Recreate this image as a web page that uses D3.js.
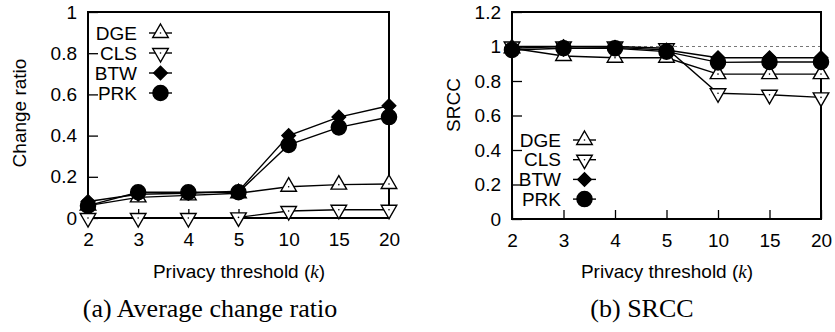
<!DOCTYPE html>
<html>
<head>
<meta charset="utf-8">
<script src="https://cdn.jsdelivr.net/npm/d3@7"></script>
<style>
  body { margin: 0; background: #fff; }
  text { font-family: "Liberation Sans", Arial, sans-serif; }
</style>
</head>
<body>
<div id="chart"></div>
<script>
// data
const kLabels = ["2", "3", "4", "5", "10", "15", "20"];
const seriesNames = ["DGE", "CLS", "BTW", "PRK"];

const changeDGE = [0.06, 0.10, 0.11, 0.12, 0.152, 0.162, 0.165];
const changeCLS = [0.0, 0.0, 0.0, 0.003, 0.034, 0.04, 0.04];
const changeBTW = [0.08, 0.115, 0.12, 0.13, 0.40, 0.49, 0.545];
const changePRK = [0.06, 0.125, 0.125, 0.125, 0.355, 0.44, 0.49];

const srccDGE = [0.99, 0.945, 0.935, 0.935, 0.84, 0.84, 0.84];
const srccCLS = [1.0, 1.0, 1.0, 0.99, 0.729, 0.72, 0.705];
const srccBTW = [0.99, 1.0, 0.995, 0.98, 0.935, 0.935, 0.935];
const srccPRK = [0.98, 0.99, 0.99, 0.97, 0.908, 0.91, 0.91];

const ticksA = [0, 0.2, 0.4, 0.6, 0.8, 1];
const ticksB = [0, 0.2, 0.4, 0.6, 0.8, 1, 1.2];

const svg = d3.select("#chart").append("svg")
    .attr("width", 835)
    .attr("height", 332);

const fs = "19px";

const symbolFor = {
    DGE: { type: d3.symbolTriangle, size: 105, rot: 0, fill: "#fff", dot: true },
    CLS: { type: d3.symbolTriangle, size: 105, rot: 180, fill: "#fff", dot: true },
    BTW: { type: d3.symbolSquare, size: 92, rot: 45, fill: "#000", dot: false },
    PRK: { type: d3.symbolCircle, size: 180, rot: 0, fill: "#000", dot: false }
};

function drawMarker(g, name, cx, cy) {
    const s = symbolFor[name];
    g.append("path")
        .attr("d", d3.symbol().type(s.type).size(s.size)())
        .attr("transform", `translate(${cx},${cy}) rotate(${s.rot})`)
        .attr("fill", s.fill)
        .attr("stroke", "#000")
        .attr("stroke-width", 1.4);
    if (s.dot) {
        g.append("circle")
            .attr("cx", cx).attr("cy", cy)
            .attr("r", 0.8)
            .attr("fill", "#000");
    }
}

function drawPanel(opt) {
    const x = d3.scalePoint().domain(kLabels).range([opt.left, opt.right]);
    const y = d3.scaleLinear().domain([0, opt.ymax]).range([opt.bottom, opt.top]);
    const g = svg.append("g");

    // y ticks (inward) and labels
    const yAxis = d3.axisLeft(y).tickValues(opt.yticks).tickSize(-10).tickPadding(0)
        .tickFormat(d => d3.format("~g")(d));
    const yg = g.append("g").attr("transform", `translate(${opt.left},0)`).call(yAxis);
    yg.select(".domain").remove();
    yg.selectAll("line").attr("stroke", "#000").attr("stroke-width", 1.3);
    yg.selectAll("text").attr("x", -11).style("font-size", fs)
        .style("font-family", "'Liberation Sans', Arial, sans-serif").attr("fill", "#000");

    // x ticks (inward) and labels
    const xAxis = d3.axisBottom(x).tickSize(-9).tickPadding(0);
    const xg = g.append("g").attr("transform", `translate(0,${opt.bottom})`).call(xAxis);
    xg.select(".domain").remove();
    xg.selectAll("line").attr("stroke", "#000").attr("stroke-width", 1.3);
    xg.selectAll("text").attr("y", 15).style("font-size", fs)
        .style("font-family", "'Liberation Sans', Arial, sans-serif").attr("fill", "#000");

    if (opt.refLine) {
        g.append("line")
            .attr("x1", opt.left).attr("x2", opt.right)
            .attr("y1", y(1)).attr("y2", y(1))
            .attr("stroke", "#777").attr("stroke-width", 1)
            .attr("stroke-dasharray", "3,3");
    }

    // frame
    g.append("rect")
        .attr("x", opt.left).attr("y", opt.top)
        .attr("width", opt.right - opt.left).attr("height", opt.bottom - opt.top)
        .attr("fill", "none").attr("stroke", "#000").attr("stroke-width", 2);

    const line = d3.line().x((d, i) => x(kLabels[i])).y(d => y(d));

    seriesNames.forEach((name, si) => {
        const vals = opt.series[si];
        g.append("path").datum(vals)
            .attr("d", line)
            .attr("fill", "none")
            .attr("stroke", "#000")
            .attr("stroke-width", 1.4);
        vals.forEach((v, i) => drawMarker(g, name, x(kLabels[i]), y(v)));
    });

    // legend
    seriesNames.forEach((name, i) => {
        const ly = opt.legY + i * opt.legStep;
        g.append("text")
            .attr("x", opt.legX).attr("y", ly)
            .attr("dy", "0.35em")
            .attr("text-anchor", "end")
            .style("font-size", fs)
            .text(name);
        g.append("line")
            .attr("x1", opt.legX + 12).attr("x2", opt.legX + 35)
            .attr("y1", ly).attr("y2", ly)
            .attr("stroke", "#000").attr("stroke-width", 1.4);
        drawMarker(g, name, opt.legX + 23.5, ly);
    });

    // axis titles
    g.append("text")
        .attr("transform", `translate(${opt.ytitleX},${opt.ytitleY}) rotate(-90)`)
        .attr("text-anchor", "middle")
        .attr("dy", "0.35em")
        .style("font-size", fs)
        .text(opt.ytitle);

    const xt = g.append("text")
        .attr("x", opt.xtitleX).attr("y", 278)
        .attr("text-anchor", "middle")
        .style("font-size", fs);
    xt.append("tspan").text("Privacy threshold (");
    xt.append("tspan").style("font-family", "'Liberation Serif', serif").style("font-style", "italic").text("k");
    xt.append("tspan").text(")");

    g.append("text")
        .attr("x", opt.captionX).attr("y", 317)
        .attr("text-anchor", "middle")
        .style("font-family", "'Liberation Serif', 'Times New Roman', serif")
        .style("font-size", "26px")
        .text(opt.caption);
}

drawPanel({
    left: 88, right: 389, top: 12, bottom: 218, ymax: 1, yticks: ticksA,
    series: [changeDGE, changeCLS, changeBTW, changePRK],
    legX: 137, legY: 33, legStep: 20,
    ytitle: "Change ratio", ytitleX: 19, ytitleY: 113,
    xtitleX: 239, caption: "(a) Average change ratio", captionX: 210,
    refLine: false
});

drawPanel({
    left: 512, right: 821, top: 12, bottom: 219, ymax: 1.2, yticks: ticksB,
    series: [srccDGE, srccCLS, srccBTW, srccPRK],
    legX: 561, legY: 140, legStep: 19.7,
    ytitle: "SRCC", ytitleX: 453, ytitleY: 105,
    xtitleX: 667, caption: "(b) SRCC", captionX: 642,
    refLine: true
});
</script>
</body>
</html>
